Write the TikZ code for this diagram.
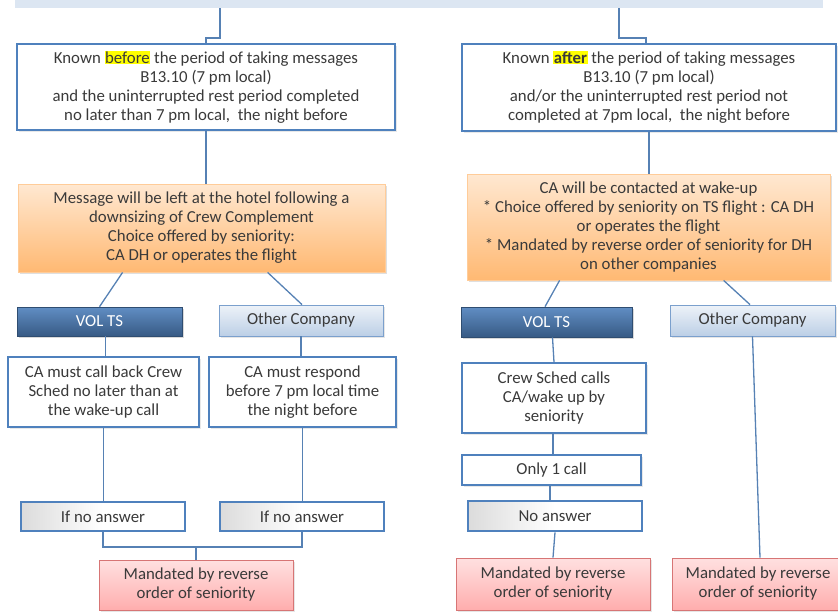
\documentclass[tikz,border=0pt]{standalone}
\usepackage{fontspec}
\setmainfont{Carlito}
\usetikzlibrary{calc,shadows}
\definecolor{bblue}{HTML}{4F81BD}
\definecolor{txt}{HTML}{3A3A3A}
\definecolor{hl}{HTML}{FFFF00}
\newcommand{\hlt}[1]{{\setlength{\fboxsep}{0.5pt}\colorbox{hl}{#1}}}
\begin{document}
\begin{tikzpicture}[x=1pt,y=-1pt,
  every node/.style={font=\fontsize{16.8}{19}\selectfont, text=txt, align=center, inner sep=0pt},
  conn/.style={draw=bblue!85!gray, line width=1.3pt},
  wbox/.style={draw=bblue, line width=1.6pt, fill=white, drop shadow={opacity=0.18, shadow xshift=1.5pt, shadow yshift=-1.5pt}},
  obox/.style={draw=orange!40!white, line width=0.8pt, top color=orange!18!white, bottom color=orange!55!white, drop shadow={opacity=0.25, shadow xshift=1.5pt, shadow yshift=-2pt}},
  rbox/.style={draw=red!55!gray!70, line width=0.8pt, top color=red!12!white, bottom color=red!32!white, drop shadow={opacity=0.2, shadow xshift=1.5pt, shadow yshift=-2pt}},
  dbbox/.style={draw=bblue!60!black, line width=0.6pt, top color=bblue!90!white, bottom color=bblue!70!black, text=white, drop shadow={opacity=0.3, shadow xshift=1.5pt, shadow yshift=-2pt}},
  lbbox/.style={draw=bblue!75, line width=0.8pt, top color=bblue!10!white, bottom color=bblue!38!white, drop shadow={opacity=0.2, shadow xshift=1.5pt, shadow yshift=-2pt}},
  nbox/.style={draw=bblue, line width=2.6pt, left color=gray!28, right color=white, middle color=white}
]
\useasboundingbox (0,0) rectangle (838,611);
% top bar
\node[fill=bblue!20!white, minimum width=808pt, minimum height=8pt] (bar) at (419,4) {};
% first level boxes
\node[wbox, minimum width=378pt, minimum height=86pt] (b1L) at (206,87)
  {Known \hlt{before} the period of taking messages\\ B13.10 (7 pm local)\\ and the uninterrupted rest period completed\\ no later than 7 pm local,\ \ the night before};
\node[wbox, minimum width=374pt, minimum height=87pt] (b1R) at (649,87.5)
  {Known \hlt{\textbf{after}} the period of taking messages\\ B13.10 (7 pm local)\\ and/or the uninterrupted rest period not\\ completed at 7pm local,\ \ the night before};
% orange boxes
\node[obox, minimum width=367pt, minimum height=88pt] (oL) at (201.5,228)
  {Message will be left at the hotel following a\\ downsizing of Crew Complement\\ Choice offered by seniority:\\ CA DH or operates the flight};
\node[obox, minimum width=363pt, minimum height=106pt] (oR) at (648.5,227)
  {CA will be contacted at wake-up\\ * Choice offered by seniority on TS flight : CA DH\\ or operates the flight\\ * Mandated by reverse order of seniority for DH\\ on other companies};
% category boxes
\node[dbbox, minimum width=165pt, minimum height=29pt] (vL) at (99.5,321.5) {VOL TS};
\node[lbbox, minimum width=164pt, minimum height=31pt] (ocL) at (301,320.5) {Other Company};
\node[dbbox, minimum width=171pt, minimum height=30pt] (vR) at (546.5,322) {VOL TS};
\node[lbbox, minimum width=165pt, minimum height=31pt] (ocR) at (752.5,320.5) {Other Company};
% second level white boxes
\node[wbox, minimum width=191pt, minimum height=70pt] (cL) at (103.5,392)
  {CA must call back Crew\\ Sched no later than at\\ the wake-up call};
\node[wbox, minimum width=187pt, minimum height=70pt] (cR) at (302.5,392)
  {CA must respond\\ before 7 pm local time\\ the night before};
\node[wbox, minimum width=184pt, minimum height=70pt] (csR) at (554,398)
  {Crew Sched calls\\ CA/wake up by\\ seniority};
\node[wbox, minimum width=179pt, minimum height=30pt] (o1) at (551.5,470) {Only 1 call};
% no answer boxes
\node[nbox, minimum width=164pt, minimum height=29pt] (nL) at (103,516.5) {If no answer};
\node[nbox, minimum width=164pt, minimum height=29pt] (nR) at (302,516.5) {If no answer};
\node[nbox, minimum width=174pt, minimum height=30pt] (naR) at (555,516) {No answer};
% mandated boxes
\node[rbox, minimum width=194pt, minimum height=50pt] (mL) at (196,585)
  {Mandated by reverse\\ order of seniority};
\node[rbox, minimum width=194pt, minimum height=52pt] (mR1) at (553,584)
  {Mandated by reverse\\ order of seniority};
\node[rbox, minimum width=172pt, minimum height=52pt] (mR2) at (758,584)
  {Mandated by reverse\\ order of seniority};
% connectors
\coordinate (tL) at (220,8);
\coordinate (tR) at (619,8);
\draw[conn] (tL) -- (220,38) -- (b1L.north |- 0,38) -- (b1L.north);
\draw[conn] (tR) -- (619,38) -- (646,38) -- (646,0 |- b1R.north);
\draw[conn] (b1L.south) -- (b1L.south |- oL.north);
\draw[conn] (b1R.south) -- (b1R.south |- oR.north);
\draw[conn] ($(oL.south west)+(105,0)$) -- (vL.north);
\draw[conn] ($(oL.south west)+(250,0)$) -- ([xshift=1pt]ocL.north);
\draw[conn] ($(oR.south west)+(93,0)$) -- ([xshift=-1.5pt]vR.north);
\draw[conn] ($(oR.south west)+(257,0)$) -- ([xshift=-2.5pt]ocR.north);
\draw[conn] ([xshift=6pt]vL.south) -- ([xshift=6pt]vL.south |- cL.north);
\draw[conn] (ocL.south) -- (ocL.south |- cR.north);
\draw[conn] ([xshift=6pt]vR.south) -- (csR.north);
\draw[conn] (cL.south) -- (cL.south |- nL.north);
\draw[conn] (cR.south) -- (cR.south |- nR.north);
\coordinate (jn) at (196,547);
\draw[conn] (nL.south) |- (jn) -| (nR.south);
\draw[conn] (jn) -- (mL.north);
\draw[conn] ([xshift=-1pt]csR.south) -- ([xshift=-1pt]csR.south |- o1.north);
\draw[conn] ([xshift=-1.5pt]o1.south) -- ([xshift=-1.5pt]o1.south |- naR.north);
\draw[conn] (naR.south) -- (mR1.north);
\draw[conn] (ocR.south) -- ([xshift=2pt]mR2.north);
\end{tikzpicture}
\end{document}
